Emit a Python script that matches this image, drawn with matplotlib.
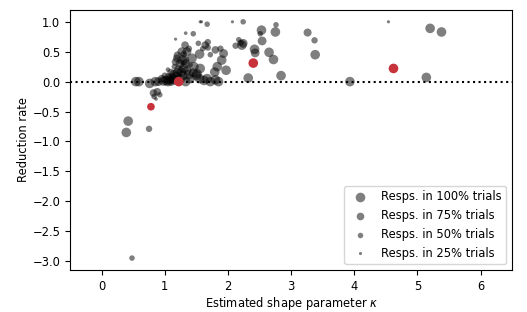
import numpy as np
import matplotlib
matplotlib.use("Agg")
import matplotlib.pyplot as plt

# estimated shape parameter, reduction rate, fraction of trials with a response
kappa = [0.42, 0.39, 0.75, 0.48,
         0.54, 0.59, 0.76, 0.85, 0.90, 0.82, 0.88, 0.83, 0.92, 0.86,
         0.98, 1.02, 1.05, 1.08, 1.10, 1.12, 1.15, 1.18, 1.25, 1.28, 1.33,
         1.06, 1.10, 1.14, 1.20, 1.22, 1.26, 1.30, 1.35, 1.38, 1.40,
         1.17, 1.19, 1.24, 1.28, 1.31, 1.33, 1.20, 1.27, 1.30, 1.35, 1.32, 1.38,
         1.43, 1.46, 1.45, 1.50, 1.51, 1.56, 1.55, 1.62, 1.67, 1.72, 1.80, 1.85,
         1.79, 1.83, 1.90, 1.93, 1.97, 1.80, 1.88, 1.55, 1.64, 1.68, 1.68, 1.53,
         1.45, 1.67, 1.56, 1.58, 1.17, 1.33, 1.60, 1.72, 1.15, 1.40, 1.05, 1.00, 0.95,
         2.07, 2.24, 2.12, 2.17, 2.22, 2.24, 2.20, 2.32, 2.42, 2.43, 2.53, 2.51,
         2.54, 2.75, 2.76, 2.65, 2.72, 2.84, 3.26, 3.37, 3.38, 3.93, 4.54,
         5.14, 5.20, 5.38]
rate = [-0.66, -0.85, -0.79, -2.95,
        0.00, 0.00, -0.03, 0.00, 0.00, -0.19, -0.17, -0.25, -0.22, -0.29,
        0.01, 0.02, 0.00, 0.03, 0.01, 0.06, 0.03, 0.08, 0.05, 0.10, 0.00,
        0.08, 0.15, 0.12, 0.15, 0.20, 0.16, 0.22, 0.18, 0.12, 0.05,
        0.33, 0.39, 0.30, 0.36, 0.36, 0.30, 0.44, 0.50, 0.46, 0.50, 0.61, 0.55,
        0.39, 0.25, 0.15, 0.10, 0.13, 0.22, 0.05, 0.02, 0.05, 0.00, 0.03, 0.00,
        0.16, 0.25, 0.36, 0.47, 0.19, 0.53, 0.55, 0.46, 0.61, 0.66, 0.57, 0.64,
        0.80, 0.96, 1.00, 1.00, 0.71, 0.81, 0.55, 0.45, 0.25, 0.28, 0.20, 0.10, 0.05,
        1.00, 1.00, 0.60, 0.70, 0.61, 0.64, 0.65, 0.06, 0.54, 0.48, 0.86, 0.80,
        0.68, 0.83, 0.95, 0.49, 0.37, 0.10, 0.82, 0.69, 0.45, 0.00, 1.00,
        0.07, 0.89, 0.83]
frac = [1.0, 1.0, 0.6, 0.5,
        1.0, 1.0, 1.0, 1.0, 0.9, 0.75, 0.75, 0.5, 0.5, 0.3,
        1.0, 1.0, 1.0, 1.0, 1.0, 1.0, 1.0, 1.0, 1.0, 1.0, 1.0,
        0.75, 0.75, 0.9, 1.0, 0.9, 1.0, 1.0, 0.9, 1.0, 1.0,
        0.75, 0.75, 0.9, 1.0, 1.0, 0.9, 0.75, 0.9, 0.6, 0.9, 0.75, 0.6,
        1.0, 1.0, 0.9, 1.0, 1.0, 1.0, 1.0, 1.0, 1.0, 1.0, 1.0, 1.0,
        1.0, 1.0, 1.0, 0.9, 1.0, 0.75, 0.6, 1.0, 0.75, 0.6, 0.6, 0.5,
        0.5, 0.5, 0.25, 0.25, 0.25, 0.3, 0.5, 0.5, 0.5, 0.5, 0.4, 0.6, 0.75,
        0.25, 0.5, 0.6, 0.5, 1.0, 0.9, 0.6, 1.0, 1.0, 0.9, 1.0, 0.5,
        0.9, 1.0, 0.5, 1.0, 1.0, 1.0, 0.8, 0.6, 1.0, 1.0, 0.25,
        1.0, 1.0, 1.0]

# highlighted subjects
red_kappa = [0.78, 1.22, 2.40, 4.62]
red_rate = [-0.42, 0.00, 0.31, 0.22]
red_frac = [0.75, 1.0, 1.0, 1.0]

legend_fracs = [1.0, 0.75, 0.5, 0.25]
legend_labels = ["Resps. in 100% trials", "Resps. in 75% trials",
                 "Resps. in 50% trials", "Resps. in 25% trials"]


def msize(f):
    return 48 * np.asarray(f) ** 1.6


plt.rcParams["font.size"] = 8.3
fig = plt.figure(figsize=(5.27, 3.12), dpi=100)
ax = fig.add_subplot(111)
fig.subplots_adjust(left=0.133, right=0.972, bottom=0.135, top=0.968)

ax.scatter(kappa, rate, s=msize(frac), c="k", alpha=0.5, linewidths=0)
ax.scatter(red_kappa, red_rate, s=msize(red_frac), c="#c8323a", linewidths=0, zorder=3)
ax.axhline(0, color="k", ls=":", lw=1.5, zorder=1)

handles = [ax.scatter([], [], s=msize(f), c="k", alpha=0.5, linewidths=0) for f in legend_fracs]
ax.legend(handles, legend_labels, loc="lower right", scatterpoints=1)

ax.set_xlim(-0.5, 6.5)
ax.set_xticks(range(0, 7))
ax.set_yticks(np.arange(-3.0, 1.01, 0.5))
ax.set_xlabel("Estimated shape parameter $\\kappa$", labelpad=1.5)
ax.set_ylabel("Reduction rate", labelpad=1.5)

fig.savefig("out.png", dpi=100)
